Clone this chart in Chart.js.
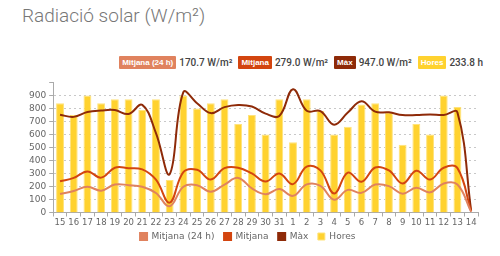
<!DOCTYPE html>
<html>
<head>
<meta charset="utf-8">
<script src="https://cdn.jsdelivr.net/npm/chart.js@4/dist/chart.umd.min.js"></script>
<style>
  html, body { margin: 0; padding: 0; background: #fff; }
  body { width: 500px; height: 256px; position: relative; overflow: hidden; font-family: Roboto, sans-serif; }
  #title { position: absolute; left: 22px; top: 4px; font-size: 19px; font-weight: 300; color: #777; }
  #stats { position: absolute; right: 17px; top: 56px; display: flex; align-items: center; font-size: 10px; }
  .badge { font-family: "Liberation Sans", Arial, sans-serif; font-weight: bold; color: #fff; font-size: 8px;
           padding: 2px 3px; border-radius: 1px; margin-right: 3px; }
  .val { color: #444; font-weight: 500; margin-right: 6px; }
  .val:last-child { margin-right: 0; }
  #wrap { position: absolute; left: 0; top: 74px; width: 500px; height: 182px; }
</style>
</head>
<body>
<div id="title">Radiació solar (W/m²)</div>
<div id="stats">
  <span class="badge" style="background:#e0825e">Mitjana (24 h)</span><span class="val">170.7 W/m²</span>
  <span class="badge" style="background:#d3450f">Mitjana</span><span class="val">279.0 W/m²</span>
  <span class="badge" style="background:#8e2a08">Màx</span><span class="val">947.0 W/m²</span>
  <span class="badge" style="background:#ffd22f">Hores</span><span class="val">233.8 h</span>
</div>
<div id="wrap"><canvas id="solarChart"></canvas></div>
<script>
  const days = ['15', '16', '17', '18', '19', '20', '21', '22', '23', '24', '25', '26', '27', '28', '29', '30', '31',
    '1', '2', '3', '4', '5', '6', '7', '8', '9', '10', '11', '12', '13', '14'];

  const mitjana24h = [142, 165, 198, 168, 215, 210, 198, 150, 48, 198, 210, 160, 215, 266, 185, 140, 180,
    128, 216, 205, 98, 174, 151, 215, 203, 145, 190, 155, 223, 215, 5];

  const mitjana = [240, 266, 316, 268, 344, 341, 331, 252, 76, 311, 328, 253, 341, 344, 300, 238, 300,
    218, 352, 324, 146, 307, 236, 346, 323, 223, 321, 253, 344, 341, 10];

  const maxim = [751, 735, 772, 784, 787, 757, 827, 610, 295, 925, 840, 764, 810, 827, 815, 760, 742,
    947, 782, 780, 675, 768, 855, 775, 770, 749, 749, 754, 749, 769, 15];

  const hores = [8.4, 7.5, 9.0, 8.4, 8.7, 8.7, 7.9, 8.7, 2.5, 9.0, 8.0, 8.4, 8.7, 6.8, 7.5, 6.0, 8.7,
    5.4, 8.7, 7.8, 6.0, 6.6, 8.3, 8.4, 7.7, 5.2, 6.8, 6.0, 9.0, 8.1, 0];

  const COLORS = {
    mitjana24h: '#e0825e',
    mitjana: '#d3450f',
    maxim: '#8e2a08',
    hores: '#ffd22f'
  };

  function lineSet(label, data, color) {
    return {
      type: 'line',
      label,
      data,
      borderColor: color,
      backgroundColor: color,
      borderWidth: 2,
      pointRadius: 0,
      tension: 0.4,
      fill: false,
      yAxisID: 'y'
    };
  }

  // legend padding is kept small vertically, so widen the items a bit instead
  function legendLabels(chart) {
    return Chart.defaults.plugins.legend.labels.generateLabels(chart)
      .map((item) => ({ ...item, text: item.text + '   ' }));
  }

  new Chart(document.getElementById('solarChart'), {
    type: 'bar',
    data: {
      labels: days,
      datasets: [
        lineSet('Mitjana (24 h)', mitjana24h, COLORS.mitjana24h),
        lineSet('Mitjana', mitjana, COLORS.mitjana),
        lineSet('Màx', maxim, COLORS.maxim),
        {
          type: 'bar',
          label: 'Hores',
          data: hores,
          backgroundColor: COLORS.hores,
          borderColor: '#ffe37a',
          borderWidth: 1,
          barPercentage: 0.72,
          categoryPercentage: 0.8,
          yAxisID: 'y1'
        }
      ]
    },
    options: {
      responsive: true,
      maintainAspectRatio: false,
      animation: false,
      layout: { padding: { left: 26, right: 22, top: 0, bottom: 5 } },
      plugins: {
        legend: {
          position: 'bottom',
          labels: {
            boxWidth: 7,
            boxHeight: 7,
            padding: 1,
            color: '#666',
            font: { family: 'DejaVu Sans', size: 9 },
            generateLabels: legendLabels
          }
        },
        tooltip: { enabled: false }
      },
      scales: {
        x: {
          afterFit: (scale) => { scale.height += 2; },
          grid: { display: true, drawOnChartArea: false, tickLength: 4, color: '#aaa' },
          border: { color: '#aaa' },
          ticks: {
            color: '#666',
            font: { family: 'DejaVu Sans', size: 8.5, lineHeight: 1 },
            padding: 2,
            maxRotation: 0,
            autoSkip: false
          }
        },
        y: {
          min: 0,
          max: 1000,
          ticks: {
            stepSize: 100,
            autoSkip: false,
            color: '#666',
            font: { family: 'DejaVu Sans', size: 9 },
            padding: 3,
            callback: (v) => (v === 1000 ? '' : v)
          },
          grid: {
            color: (ctx) => (ctx.tick && ctx.tick.value === 1000 ? 'rgba(0,0,0,0)' : '#c8c8c8'),
            tickLength: 4,
            tickColor: '#aaa'
          },
          border: { color: '#aaa', dash: [2, 3] }
        },
        y1: {
          display: false,
          min: 0,
          max: 10
        }
      }
    }
  });
</script>
</body>
</html>
